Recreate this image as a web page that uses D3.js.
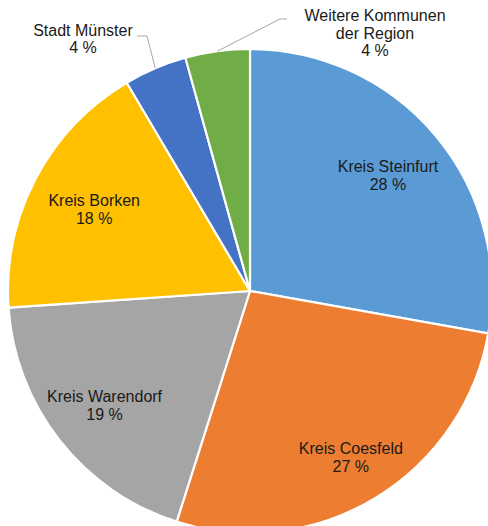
<!DOCTYPE html>
<html>
<head>
<meta charset="utf-8">
<script src="https://cdn.jsdelivr.net/npm/d3@7"></script>
<style>
  body { margin: 0; background: #fff; }
  #chart { width: 488px; height: 526px; overflow: hidden; }
  text { font-family: "Liberation Sans", Arial, sans-serif; font-size: 16px; fill: #1a1a1a; }
</style>
</head>
<body>
<div id="chart"></div>
<script>
// data (shares in %, labels show rounded values)
const regions = ["Kreis Steinfurt", "Kreis Coesfeld", "Kreis Warendorf", "Kreis Borken", "Stadt Münster", "Weitere Kommunen der Region"];
const shares = [27.8, 27.1, 19.0, 17.6, 4.2, 4.3];
const colors = ["#5B9BD5", "#ED7D31", "#A5A5A5", "#FFC000", "#4472C4", "#70AD47"];

const width = 488, height = 526;
const cx = 250, cy = 291, radius = 242;

const svg = d3.select("#chart")
    .append("svg")
    .attr("width", width)
    .attr("height", height);

const g = svg.append("g")
    .attr("transform", `translate(${cx},${cy})`);

const pie = d3.pie().sort(null).value(d => d);
const arcs = pie(shares);

const arc = d3.arc().innerRadius(0).outerRadius(radius);
const fmt = v => Math.round(v) + " %";

/* SLICES */
g.selectAll("path.slice")
    .data(arcs)
    .enter()
    .append("path")
    .attr("class", "slice")
    .attr("d", arc)
    .attr("fill", (d, i) => colors[i])
    .attr("stroke", "#fff")
    .attr("stroke-width", 2.2)
    .attr("stroke-linejoin", "round");

/* INSIDE LABELS (first four slices) */
const labelRadius = [180, 195, 185, 176];
const lineH = 18;

arcs.slice(0, 4).forEach(function(d, i) {
    const la = d3.arc().innerRadius(labelRadius[i]).outerRadius(labelRadius[i]);
    const [x, y] = la.centroid(d);
    const t = g.append("text")
        .attr("text-anchor", "middle")
        .attr("x", x)
        .attr("y", y - lineH / 2 + 5.5);
    t.append("tspan").attr("x", x).text(regions[i]);
    t.append("tspan").attr("x", x).attr("dy", lineH).text(fmt(shares[i]));
});

/* OUTSIDE LABELS WITH LEADER LINES */
const edge = d3.arc().innerRadius(radius).outerRadius(radius);

// Stadt Münster
const pM = edge.centroid(arcs[4]);
g.append("polyline")
    .attr("points", [[pM[0], pM[1]], [147 - cx, 36 - cy], [137 - cx, 36 - cy]].map(p => p.join(",")).join(" "))
    .attr("fill", "none")
    .attr("stroke", "#a6a6a6")
    .attr("stroke-width", 1);

const tM = svg.append("text").attr("text-anchor", "middle").attr("x", 83).attr("y", 36);
tM.append("tspan").attr("x", 83).text(regions[4]);
tM.append("tspan").attr("x", 83).attr("dy", 17).text(fmt(shares[4]));

// Weitere Kommunen der Region
const pW = edge.centroid(arcs[5]);
g.append("polyline")
    .attr("points", [[pW[0], pW[1]], [280 - cx, 19 - cy], [287 - cx, 19 - cy]].map(p => p.join(",")).join(" "))
    .attr("fill", "none")
    .attr("stroke", "#a6a6a6")
    .attr("stroke-width", 1);

const tW = svg.append("text").attr("text-anchor", "middle").attr("x", 375).attr("y", 21);
tW.append("tspan").attr("x", 375).text("Weitere Kommunen");
tW.append("tspan").attr("x", 375).attr("dy", 17.5).text("der Region");
tW.append("tspan").attr("x", 375).attr("dy", 17.5).text(fmt(shares[5]));
</script>
</body>
</html>
